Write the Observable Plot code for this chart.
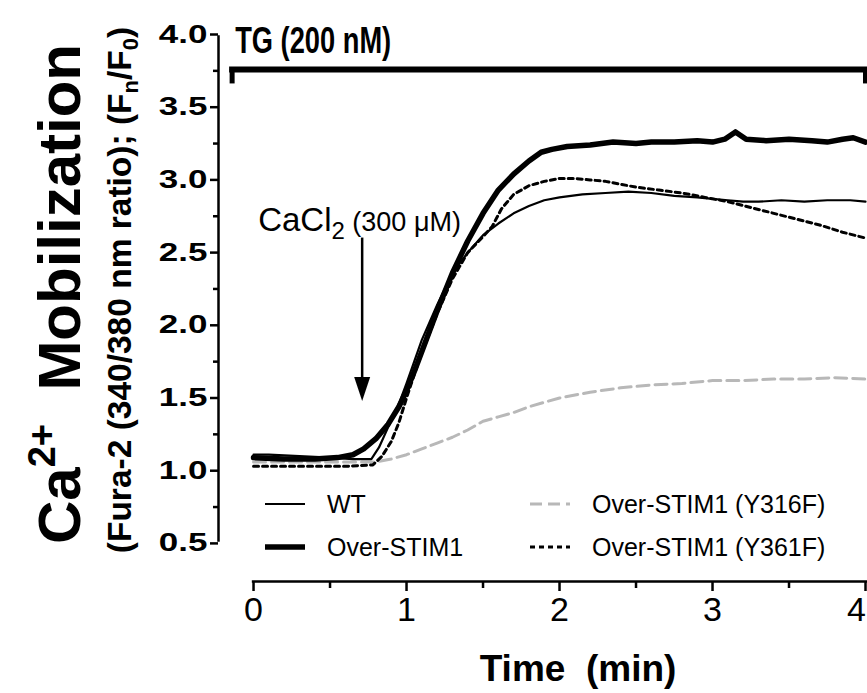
<!DOCTYPE html>
<html><head><meta charset="utf-8">
<script src="https://cdn.jsdelivr.net/npm/d3@7"></script>
<script src="https://cdn.jsdelivr.net/npm/@observablehq/plot@0.6"></script>
<style>body{margin:0;background:#fff}</style>
</head><body><div id="chart"></div>
<script>
// ---- data (time in min, Fura-2 ratio) ----
const wtT  = [0,0.1,0.3,0.5,0.65,0.77,0.82,0.88,0.95,1.0,1.05,1.1,1.2,1.3,1.4,1.5,1.6,1.7,1.8,1.9,2.0,2.15,2.3,2.45,2.6,2.75,2.9,3.0,3.1,3.2,3.3,3.45,3.6,3.75,3.9,4.0];
const wtV  = [1.11,1.11,1.10,1.09,1.08,1.08,1.16,1.30,1.46,1.60,1.75,1.90,2.14,2.36,2.50,2.62,2.70,2.77,2.82,2.86,2.88,2.90,2.91,2.92,2.91,2.89,2.88,2.87,2.86,2.85,2.85,2.86,2.85,2.86,2.86,2.85];
const overT = [0,0.2,0.4,0.55,0.65,0.72,0.8,0.88,0.95,1.0,1.05,1.1,1.2,1.3,1.4,1.5,1.6,1.7,1.8,1.88,1.95,2.05,2.2,2.35,2.5,2.6,2.75,2.9,3.0,3.08,3.15,3.22,3.35,3.5,3.65,3.75,3.85,3.92,4.0];
const overV = [1.09,1.08,1.08,1.09,1.11,1.15,1.22,1.32,1.44,1.55,1.68,1.82,2.10,2.36,2.58,2.77,2.93,3.04,3.13,3.19,3.21,3.23,3.24,3.26,3.25,3.26,3.26,3.27,3.26,3.28,3.33,3.28,3.27,3.28,3.27,3.26,3.28,3.29,3.26];
const y316T = [0,0.3,0.6,0.8,0.9,1.0,1.1,1.2,1.3,1.4,1.5,1.6,1.7,1.8,1.9,2.0,2.2,2.4,2.6,2.8,3.0,3.2,3.4,3.6,3.8,4.0];
const y316V = [1.06,1.06,1.06,1.06,1.08,1.11,1.15,1.19,1.23,1.28,1.34,1.37,1.40,1.44,1.47,1.50,1.54,1.57,1.59,1.60,1.62,1.62,1.63,1.63,1.64,1.63];
const y361T = [0,0.2,0.4,0.6,0.78,0.84,0.9,0.95,1.0,1.05,1.1,1.2,1.3,1.4,1.5,1.56,1.62,1.7,1.8,1.9,2.0,2.1,2.2,2.3,2.4,2.5,2.65,2.8,2.95,3.1,3.25,3.4,3.55,3.7,3.85,4.0];
const y361V = [1.03,1.03,1.03,1.03,1.04,1.10,1.20,1.33,1.50,1.66,1.81,2.08,2.32,2.50,2.61,2.68,2.80,2.90,2.96,2.99,3.01,3.01,3.00,2.99,2.97,2.95,2.93,2.91,2.88,2.85,2.81,2.77,2.73,2.69,2.64,2.60];

const seriesNames = ["WT","Over-STIM1","Over-STIM1 (Y316F)","Over-STIM1 (Y361F)"];
const xTicks = [0,1,2,3,4];
const xMinor = [0.5,1.5,2.5,3.5];
const yTicks = [0.5,1.0,1.5,2.0,2.5,3.0,3.5,4.0];
const yMinor = [0.75,1.25,1.75,2.25,2.75,3.25,3.75];

// annotations (data space)
const tgBar = {t1:-0.14, t2:4.0, y:3.76, yLeg:3.66, label:"TG (200 nM)", labelT:-0.12, labelY:3.955};
const caArrow = {t:0.71, yTop:2.6, yTip:1.48, labelT:0.03, labelY:2.72};

const toRows = (T, V) => T.map((t, i) => ({t, v: V[i]}));
const wt = toRows(wtT, wtV), over = toRows(overT, overV), y316 = toRows(y316T, y316V), y361 = toRows(y361T, y361V);

const XMIN = -0.229, XMAX = 4.013, YMIN = 0.238, YMAX = 4.0;
const FONT = "'Liberation Sans', Arial, Helvetica, sans-serif";

const headSymbol = {draw(ctx) { ctx.moveTo(-8,-24); ctx.lineTo(8,-24); ctx.lineTo(0,0); ctx.closePath(); }};

const plot = Plot.plot({
  width: 867, height: 693,
  marginLeft: 218, marginRight: 0, marginTop: 34, marginBottom: 112,
  x: {domain: [XMIN, XMAX]},
  y: {domain: [YMIN, YMAX]},
  style: {fontFamily: FONT, background: "white", color: "black", overflow: "visible"},
  marks: [
    // y axis
    Plot.ruleX([XMIN], {y1: 0.5, y2: 4.0, strokeWidth: 2.5, insetTop: -1.2, insetBottom: -1.2}),
    Plot.axisY(yTicks, {anchor: "left", tickSize: 8, strokeWidth: 2.5, tickPadding: 3, fontSize: 25, fontWeight: "bold", tickFormat: d => d.toFixed(1), label: null}),
    Plot.axisY(yMinor, {anchor: "left", tickSize: 5, strokeWidth: 2.5, tickFormat: () => "", label: null}),
    // x axis
    Plot.ruleY([YMIN], {x1: 0, x2: XMAX, strokeWidth: 2.5, insetLeft: -1.2}),
    Plot.axisX(xTicks, {anchor: "bottom", tickSize: 10, strokeWidth: 2.5, tickPadding: 5, fontSize: 34, tickFormat: d => String(d), label: null}),
    Plot.axisX(xMinor, {anchor: "bottom", tickSize: 7, strokeWidth: 2.5, tickFormat: () => "", label: null}),
    Plot.text(["Time\u00a0\u00a0(min)"], {frameAnchor: "bottom", dx: 35, dy: 99, fontSize: 37, fontWeight: "bold"}),
    // TG bracket
    Plot.ruleY([tgBar], {y: "y", x1: "t1", x2: "t2", strokeWidth: 6, insetLeft: -2.5, insetRight: -2.5}),
    Plot.ruleX([tgBar.t1, tgBar.t2], {y1: tgBar.yLeg, y2: tgBar.y, strokeWidth: 5}),
    Plot.text([tgBar], {x: "labelT", y: "labelY", text: "label", textAnchor: "start", fontSize: 36, fontWeight: "bold", className: "tg"}),
    // CaCl2 arrow
    Plot.ruleX([caArrow], {x: "t", y1: "yTop", y2: 1.6, strokeWidth: 2.5}),
    Plot.dot([caArrow], {x: "t", y: "yTip", symbol: headSymbol, fill: "black", stroke: "none", r: 5}),
    Plot.text([caArrow], {x: "labelT", y: "labelY", text: () => "CaCl2 (300 μM)", textAnchor: "start", fontSize: 33, className: "cacl"}),
    // series
    Plot.line(y316, {x: "t", y: "v", stroke: "#b8b8b8", strokeWidth: 3, strokeDasharray: "12,6"}),
    Plot.line(wt, {x: "t", y: "v", stroke: "black", strokeWidth: 2.2}),
    Plot.line(y361, {x: "t", y: "v", stroke: "black", strokeWidth: 3, strokeDasharray: "5,4"}),
    Plot.line(over, {x: "t", y: "v", stroke: "black", strokeWidth: 5.5})
  ]
});
document.getElementById("chart").appendChild(plot);

const svg = d3.select(plot);
// wider y tick labels (extended bold face in the reference)
svg.selectAll("text")
  .filter(function() { return /^\d\.\d$/.test(this.textContent.trim()); })
  .each(function() {
    const tr = this.getAttribute("transform") || "";
    this.setAttribute("transform", tr + " scale(1.4,1)");
  });
// keep the last x tick label inside the picture
svg.selectAll("text")
  .filter(function() { return this.textContent.trim() === "4"; })
  .attr("dx", -9);
// narrower TG label
svg.select("g.tg text").attr("textLength", 156).attr("lengthAdjust", "spacingAndGlyphs");

// CaCl2 subscript
svg.select("g.cacl text").each(function() {
  const el = d3.select(this);
  el.text(null);
  el.append("tspan").text("CaCl");
  el.append("tspan").attr("font-size", 24).attr("dy", 8).text("2");
  el.append("tspan").attr("font-size", 27).attr("dy", -8).text("\u00a0(300 μM)");
});

// y titles
const t1 = svg.append("text").attr("transform", "translate(80,294) rotate(-90)").attr("text-anchor", "middle")
  .attr("font-family", FONT).attr("font-weight", "bold").attr("font-size", 60).attr("fill", "black");
t1.append("tspan").text("Ca");
t1.append("tspan").attr("font-size", 38).attr("dy", -25).text("2+");
t1.append("tspan").attr("dy", 25).text("\u00a0\u00a0Mobilization");

const t2 = svg.append("text").attr("transform", "translate(131,290) rotate(-90)").attr("text-anchor", "middle")
  .attr("font-family", FONT).attr("font-weight", "bold").attr("font-size", 33.5).attr("fill", "black");
t2.append("tspan").text("(Fura-2 (340/380 nm ratio); (F");
t2.append("tspan").attr("font-size", 22).attr("dy", 7).text("n");
t2.append("tspan").attr("dy", -7).text("/F");
t2.append("tspan").attr("font-size", 22).attr("dy", 7).text("0");
t2.append("tspan").attr("dy", -7).text(")");

// legend
const legendItems = [
  {name: seriesNames[0], x: 265, y: 504, stroke: "black", w: 2.2, dash: null},
  {name: seriesNames[1], x: 265, y: 547, stroke: "black", w: 5.5, dash: null},
  {name: seriesNames[2], x: 530, y: 504, stroke: "#b8b8b8", w: 3, dash: "12,6"},
  {name: seriesNames[3], x: 530, y: 547, stroke: "black", w: 3, dash: "5,4"}
];
const lg = svg.append("g").attr("font-family", FONT).attr("font-size", 25).attr("text-anchor", "start");
legendItems.forEach(d => {
  lg.append("line").attr("x1", d.x).attr("x2", d.x + 40).attr("y1", d.y).attr("y2", d.y)
    .attr("stroke", d.stroke).attr("stroke-width", d.w).attr("stroke-dasharray", d.dash);
  lg.append("text").attr("x", d.x + 62).attr("y", d.y).attr("dy", "0.35em").attr("text-anchor", "start").text(d.name);
});
</script>
</body></html>
